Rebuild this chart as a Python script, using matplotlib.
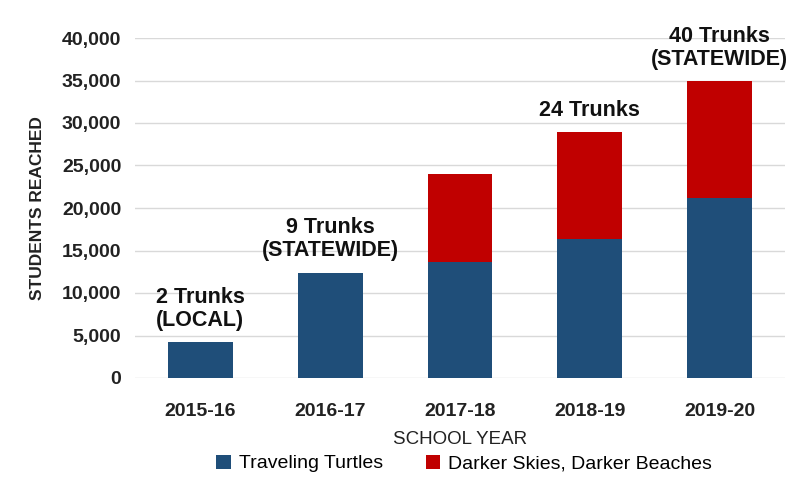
import numpy as np
import matplotlib.pyplot as plt

# School years and students reached per program
years = ['2015-16', '2016-17', '2017-18', '2018-19', '2019-20']
turtles = [4200, 12400, 13600, 16300, 21200]
skies = [0, 0, 10400, 12600, 13700]
trunk_labels = ['2 Trunks\n(LOCAL)', '9 Trunks\n(STATEWIDE)', '', '24 Trunks', '40 Trunks\n(STATEWIDE)']
# third bar has no label in the original
yticks = np.arange(0, 40001, 5000)

plt.rcParams['font.family'] = ['Liberation Sans', 'DejaVu Sans']

fig = plt.figure(figsize=(8, 5), dpi=100)
ax = fig.add_axes([0.169, 0.244, 0.812, 0.68])

x = np.arange(len(years))
blue = '#1F4E79'
red = '#C00000'
ax.bar(x, turtles, width=0.5, color=blue, label='Traveling Turtles', zorder=3)
ax.bar(x, skies, width=0.5, bottom=turtles, color=red,
       label='Darker Skies, Darker Beaches', zorder=3)

totals = np.array(turtles) + np.array(skies)
for i, lab in enumerate(trunk_labels):
    if lab:
        ax.annotate(lab, (x[i], totals[i]), xytext=(0, 8), textcoords='offset points',
                    ha='center', va='bottom', fontsize=15.5, fontweight='bold',
                    linespacing=1.15, color='#111111')

ax.set_xlim(-0.5, 4.5)
ax.set_ylim(0, 40000)
ax.set_yticks(yticks)
ax.set_yticklabels([f'{v:,}' for v in yticks])
ax.set_xticks(x)
ax.set_xticklabels(years)
ax.tick_params(axis='both', length=0, labelsize=14, pad=10)
ax.tick_params(axis='x', pad=18)
for t in ax.get_xticklabels() + ax.get_yticklabels():
    t.set_fontweight('bold')
    t.set_color('#222222')
ax.yaxis.grid(True, color='#d9d9d9', linewidth=1, zorder=0)
for s in ax.spines.values():
    s.set_visible(False)

ax.set_xlabel('SCHOOL YEAR', fontsize=13.5, labelpad=8, color='#222222')
ax.set_ylabel('STUDENTS REACHED', fontsize=12.5, fontweight='bold', labelpad=12, color='#222222')

fig.legend(loc='lower center', bbox_to_anchor=(0.58, 0.02), ncol=2, frameon=False,
           fontsize=14, handlelength=0.75, handleheight=0.75, columnspacing=2.2,
           handletextpad=0.4)

fig.savefig('out.png', dpi=100)
